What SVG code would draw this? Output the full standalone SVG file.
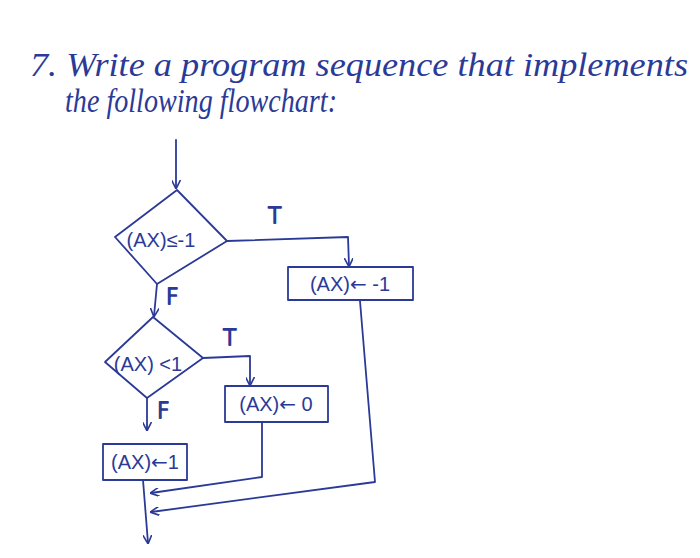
<svg xmlns="http://www.w3.org/2000/svg" width="700" height="558" viewBox="0 0 700 558">
<style>
.ink{fill:none;stroke:#2b3a97;stroke-width:1.8;stroke-linejoin:round;stroke-linecap:round}
.hd{font-family:"Liberation Serif",serif;font-style:italic;fill:#2b3a97}
.lb{font-family:"Liberation Sans","DejaVu Sans",sans-serif;fill:#2b3a97;font-size:20px}
.arw{font-family:"DejaVu Sans",sans-serif}
.tf{font-family:"DejaVu Sans",sans-serif;font-weight:300;fill:#2b3a97;font-size:22px}
</style>
<defs>
<marker id="ar" viewBox="0 0 10 10" refX="9" refY="5" markerWidth="9" markerHeight="9" orient="auto" markerUnits="userSpaceOnUse">
<path d="M0,0 L10,5 L0,10" fill="none" stroke="#2b3a97" stroke-width="1.8"/>
</marker>
</defs>
<rect width="700" height="558" fill="#fff"/>
<text class="hd" x="30" y="76" font-size="34" textLength="658" lengthAdjust="spacingAndGlyphs">7. Write a program sequence that implements</text>
<text class="hd" x="65" y="112" font-size="33" textLength="272" lengthAdjust="spacingAndGlyphs">the following flowchart:</text>

<g id="connectors" class="ink">
<path d="M176,140 L176,188" marker-end="url(#ar)"/>
<path d="M227,241 L348,237 L349,266" marker-end="url(#ar)"/>
<path d="M157,284 L154,316" marker-end="url(#ar)"/>
<path d="M203,358 L250,356 L250,385" marker-end="url(#ar)"/>
<path d="M147,398 L147,430" marker-end="url(#ar)"/>
<path d="M262,423 L262,477 L151,493" marker-end="url(#ar)"/>
<path d="M360,301 L375,482 L151,512" marker-end="url(#ar)"/>
<path d="M143,480 L148,543" marker-end="url(#ar)"/>
<text class="tf" x="268" y="223">T</text>
<text class="tf" x="166" y="304" font-size="19">F</text>
<text class="tf" x="223" y="345">T</text>
<text class="tf" x="157" y="418" font-size="19">F</text>
</g>

<g id="decision1">
<path class="ink" d="M177,190 L227,241 L157,284 L115,237 Z"/>
<text class="lb" x="161" y="247" text-anchor="middle">(AX)≤-1</text>
</g>
<g id="box1">
<rect class="ink" x="288" y="267" width="125" height="33"/>
<text class="lb" x="350" y="291" text-anchor="middle" font-size="21">(AX)<tspan class="arw">←</tspan> -1</text>
</g>
<g id="decision2">
<path class="ink" d="M153,317 L203,358 L147,398 L105,362 Z"/>
<text class="lb" x="148" y="371" text-anchor="middle" font-size="18">(AX) &lt;1</text>
</g>
<g id="box2">
<rect class="ink" x="225" y="386" width="103" height="36"/>
<text class="lb" x="276" y="411" text-anchor="middle" font-size="18">(AX)<tspan class="arw">←</tspan> 0</text>
</g>
<g id="box3">
<rect class="ink" x="103" y="444" width="84" height="36"/>
<text class="lb" x="145" y="469" text-anchor="middle" font-size="18">(AX)<tspan class="arw">←</tspan>1</text>
</g>
</svg>
